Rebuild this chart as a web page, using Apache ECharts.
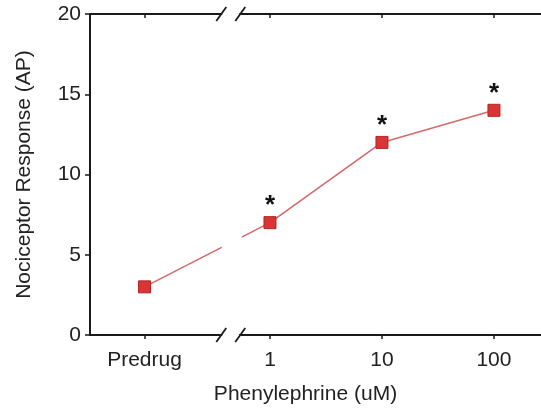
<!DOCTYPE html>
<html>
<head>
<meta charset="utf-8">
<script src="https://cdn.jsdelivr.net/npm/echarts@6/dist/echarts.min.js"></script>
<style>
  html, body { margin: 0; padding: 0; background: #fff; }
  #main { width: 541px; height: 410px; }
</style>
</head>
<body>
<div id="main"></div>
<script>
// data
const categories = ['Predrug', '1', '10', '100'];
const xPos = [-1.12, 0, 1, 2]; // log10(dose); Predrug sits left of the break
const values = [3, 7, 12, 14];
const significant = [false, true, true, true];
const yTicks = [0, 5, 10, 15, 20];
const breakAt = -0.35; // where the x axis is broken

const axisColor = '#1a1a1a';
const textColor = '#222';
const font = 'Arial, "Liberation Sans", Helvetica, sans-serif';

var chart = echarts.init(document.getElementById('main'));

chart.setOption({
    animation: false,
    grid: { left: 90, right: 0, top: 14, bottom: 75 },
    xAxis: [
        {
            type: 'value',
            position: 'bottom',
            min: -1.607,
            max: 2.42,
            name: 'Phenylephrine (uM)',
            nameLocation: 'middle',
            nameGap: 49,
            nameTextStyle: { fontSize: 21, color: textColor, fontFamily: font, padding: [0, 20, 0, 0] },
            splitLine: { show: false },
            axisLine: { onZero: false, lineStyle: { color: axisColor, width: 2 } },
            axisTick: { customValues: xPos, length: 4, lineStyle: { color: axisColor, width: 1.5 } },
            axisLabel: {
                customValues: xPos,
                margin: 15,
                fontSize: 21,
                color: textColor,
                fontFamily: font,
                formatter: function (v) {
                    const i = xPos.indexOf(v);
                    return i >= 0 ? categories[i] : '';
                },
            },
        },
        {
            type: 'value',
            position: 'top',
            min: -1.607,
            max: 2.42,
            splitLine: { show: false },
            axisLine: { onZero: false, lineStyle: { color: axisColor, width: 2 } },
            axisTick: { customValues: xPos, inside: true, length: 4, lineStyle: { color: axisColor, width: 1.5 } },
            axisLabel: { show: false },
        },
    ],
    yAxis: {
        type: 'value',
        min: 0,
        max: 20,
        interval: 5,
        name: 'Nociceptor Response (AP)',
        nameLocation: 'middle',
        nameGap: 55,
        nameTextStyle: { fontSize: 21, color: textColor, fontFamily: font },
        splitLine: { show: false },
        axisLine: { show: true, onZero: false, lineStyle: { color: axisColor, width: 2 } },
        axisTick: { show: true, length: 5, lineStyle: { color: axisColor, width: 1.5 } },
        axisLabel: {
            fontSize: 21,
            color: textColor,
            fontFamily: font,
            margin: 9,
            formatter: function (v) { return yTicks.indexOf(v) >= 0 ? v : ''; },
        },
    },
    series: [
        {
            type: 'line',
            xAxisIndex: 0,
            data: values.map((v, i) => ({
                value: [xPos[i], v],
                label: {
                    show: significant[i],
                    formatter: '*',
                    position: 'top',
                    distance: -3,
                    fontSize: 26,
                    fontWeight: 'bold',
                    color: '#111',
                    fontFamily: font,
                },
            })),
            symbol: 'rect',
            symbolSize: 12,
            lineStyle: { color: '#d46a6a', width: 1.6 },
            itemStyle: { color: '#d93535', borderColor: '#b52525', borderWidth: 1 },
            z: 3,
        },
    ],
});

// axis break marks "//" drawn over the axes and the line
function drawBreak() {
    const bx = chart.convertToPixel({ xAxisIndex: 0 }, breakAt);
    const yTop = chart.convertToPixel({ yAxisIndex: 0 }, 20);
    const yBot = chart.convertToPixel({ yAxisIndex: 0 }, 0);
    const half = 9.5;
    const elems = [
        // hide the line where the axis is broken
        { type: 'rect', shape: { x: bx - 9, y: yTop + 3, width: 20, height: yBot - yTop - 6 }, style: { fill: '#fff' }, z: 10 },
    ];
    [yTop, yBot].forEach(function (y) {
        elems.push({ type: 'rect', shape: { x: bx - half + 1, y: y - 3, width: 2 * half - 2, height: 6 }, style: { fill: '#fff' }, z: 10 });
        [-half, half].forEach(function (dx) {
            elems.push({
                type: 'line',
                shape: { x1: bx + dx - 5, y1: y + 7, x2: bx + dx + 5, y2: y - 7 },
                style: { stroke: axisColor, lineWidth: 1.8 },
                z: 11,
            });
        });
    });
    chart.setOption({ graphic: elems });
}
drawBreak();
</script>
</body>
</html>
